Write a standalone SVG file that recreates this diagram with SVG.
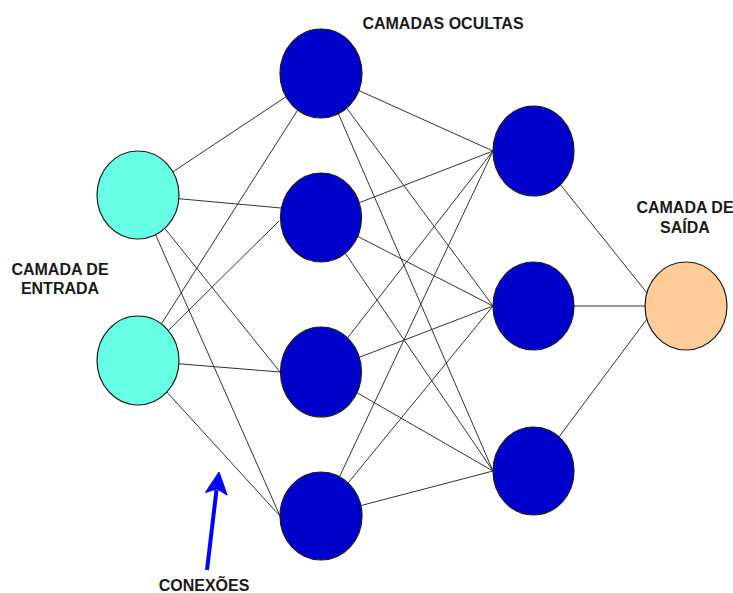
<svg xmlns="http://www.w3.org/2000/svg" width="733" height="593" viewBox="0 0 733 593">
  <style>
    .edge { stroke: #333333; stroke-width: 1; fill: none; }
    .node { stroke: #1a1a1a; stroke-width: 1.2; }
    .in { fill: #66FFE6; }
    .hid { fill: #0000CC; }
    .out { fill: #FFCC99; }
    .lbl { font-family: "Liberation Sans", Arial, sans-serif; font-weight: bold; font-size: 16px; fill: #1a1a1a; text-anchor: middle; }
  </style>

  <!-- connectors: drawn from node centres, hidden under the opaque nodes -->
  <g id="connectors">
    <!-- input layer to first hidden layer -->
    <line class="edge" x1="138" y1="195" x2="321" y2="73.5"/>
    <line class="edge" x1="138" y1="195" x2="281" y2="208"/>
    <line class="edge" x1="138" y1="195" x2="280" y2="372"/>
    <line class="edge" x1="138" y1="195" x2="280" y2="516"/>
    <line class="edge" x1="138" y1="360.5" x2="321" y2="73.5"/>
    <line class="edge" x1="138" y1="360.5" x2="279" y2="221"/>
    <line class="edge" x1="138" y1="360.5" x2="280" y2="372"/>
    <line class="edge" x1="138" y1="360.5" x2="280" y2="516"/>
    <!-- first hidden layer to second hidden layer -->
    <line class="edge" x1="321" y1="73.5" x2="493" y2="151"/>
    <line class="edge" x1="321" y1="73.5" x2="493" y2="306"/>
    <line class="edge" x1="321" y1="73.5" x2="493" y2="471"/>
    <line class="edge" x1="321" y1="217.5" x2="493" y2="151"/>
    <line class="edge" x1="321" y1="217.5" x2="493" y2="306"/>
    <line class="edge" x1="321" y1="217.5" x2="493" y2="471"/>
    <line class="edge" x1="321" y1="372" x2="493" y2="151"/>
    <line class="edge" x1="321" y1="372" x2="493" y2="306"/>
    <line class="edge" x1="321" y1="372" x2="493" y2="471"/>
    <line class="edge" x1="321" y1="516" x2="493" y2="151"/>
    <line class="edge" x1="321" y1="516" x2="493" y2="306"/>
    <line class="edge" x1="321" y1="516" x2="493" y2="471"/>
    <!-- second hidden layer to output -->
    <line class="edge" x1="533.5" y1="151" x2="647" y2="293"/>
    <line class="edge" x1="533.5" y1="306" x2="645" y2="306"/>
    <line class="edge" x1="533.5" y1="471" x2="647" y2="319"/>
  </g>

  <!-- input layer -->
  <g id="in1"><ellipse class="node in" cx="138" cy="195" rx="41" ry="44"/></g>
  <g id="in2"><ellipse class="node in" cx="138" cy="360.5" rx="41" ry="44.5"/></g>

  <!-- first hidden layer -->
  <g id="h1a"><ellipse class="node hid" cx="321" cy="73.5" rx="41" ry="44.5"/></g>
  <g id="h1b"><ellipse class="node hid" cx="321" cy="217.5" rx="40.5" ry="44.5"/></g>
  <g id="h1c"><ellipse class="node hid" cx="321" cy="372" rx="40.5" ry="45"/></g>
  <g id="h1d"><ellipse class="node hid" cx="321" cy="516" rx="41" ry="44"/></g>

  <!-- second hidden layer -->
  <g id="h2a"><ellipse class="node hid" cx="533.5" cy="151" rx="40.5" ry="45"/></g>
  <g id="h2b"><ellipse class="node hid" cx="533.5" cy="306" rx="40.5" ry="44"/></g>
  <g id="h2c"><ellipse class="node hid" cx="533.5" cy="471" rx="40.5" ry="44"/></g>

  <!-- output layer -->
  <g id="out1"><ellipse class="node out" cx="686" cy="306" rx="41" ry="44"/></g>

  <!-- layer captions -->
  <g id="captions">
    <text class="lbl" x="443" y="29">CAMADAS OCULTAS</text>
    <text class="lbl" x="60" y="275">CAMADA DE</text>
    <text class="lbl" x="60" y="294">ENTRADA</text>
    <text class="lbl" x="685" y="213">CAMADA DE</text>
    <text class="lbl" x="685" y="233">SAÍDA</text>
  </g>

  <!-- pointer to the connections -->
  <g id="conexoes">
    <line x1="207" y1="570" x2="216.5" y2="490" stroke="#0000ff" stroke-width="4"/>
    <polygon points="219,472 227.2,495.1 216.9,488.9 205.4,492.5" fill="#0000ff" stroke="#0000ff" stroke-width="1"/>
    <text class="lbl" x="204" y="591">CONEXÕES</text>
  </g>
</svg>
